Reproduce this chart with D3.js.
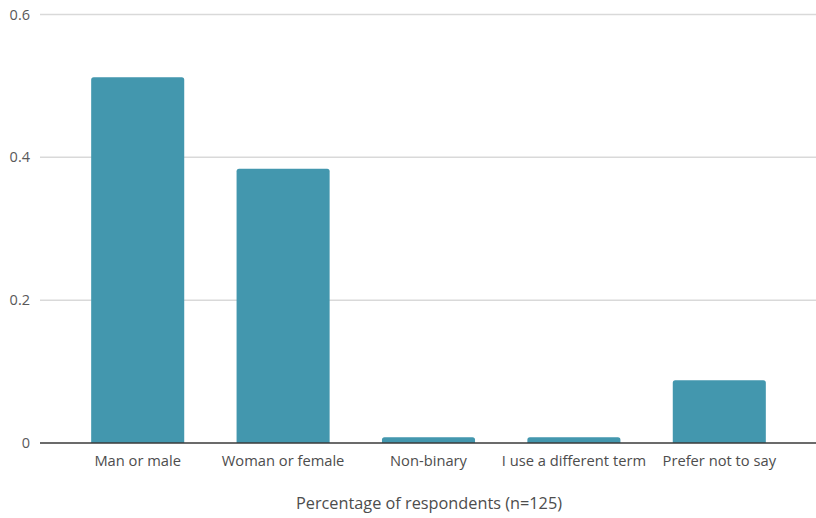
<!DOCTYPE html>
<html><head><meta charset="utf-8">
<script src="https://cdn.jsdelivr.net/npm/d3@7"></script>
<style>body{margin:0;background:#fff}svg{display:block}</style>
</head><body><svg id="c" width="816" height="518"></svg>
<script>
const categories = ["Man or male","Woman or female","Non-binary","I use a different term","Prefer not to say"];
const values = [0.512, 0.384, 0.008, 0.008, 0.088];
const yTicks = [0, 0.2, 0.4, 0.6];
const yTickLabels = ["0","0.2","0.4","0.6"];
const xTitle = "Percentage of respondents (n=125)";

const svg = d3.select("#c");
const font = "'Open Sans', sans-serif";
const x = d3.scaleBand().domain(categories).range([65, 792]).paddingInner(0.36).paddingOuter(0.18);
const y = d3.scaleLinear().domain([0, 0.6]).range([443, 14.5]);

// gridlines
svg.append("g").selectAll("line").data(yTicks.filter(d => d > 0)).join("line")
  .attr("x1", 40).attr("x2", 816)
  .attr("y1", d => y(d)).attr("y2", d => y(d))
  .attr("stroke", "#d9d9d9").attr("stroke-width", 1.5);

// y labels
svg.append("g").selectAll("text").data(yTicks).join("text")
  .attr("x", 30).attr("y", d => y(d)).attr("dy", "0.35em")
  .attr("text-anchor", "end").attr("font-family", font).attr("font-size", 14.5)
  .attr("fill", "#595959").text((d, i) => yTickLabels[i]);

// bars with rounded tops
const r = 2.5;
svg.append("g").selectAll("path").data(values).join("path")
  .attr("fill", "#4397ae")
  .attr("d", (d, i) => {
    const x0 = x(categories[i]), w = x.bandwidth(), y0 = y(d), yb = y(0);
    const rr = Math.min(r, (yb - y0));
    return `M${x0},${yb}V${y0 + rr}Q${x0},${y0} ${x0 + rr},${y0}H${x0 + w - rr}Q${x0 + w},${y0} ${x0 + w},${y0 + rr}V${yb}Z`;
  });

// zero line
svg.append("line").attr("x1", 40).attr("x2", 816).attr("y1", y(0)).attr("y2", y(0))
  .attr("stroke", "#3a3a3a").attr("stroke-width", 1.5);

// x labels
svg.append("g").selectAll("text").data(categories).join("text")
  .attr("x", d => x(d) + x.bandwidth() / 2).attr("y", 466)
  .attr("text-anchor", "middle").attr("font-family", font).attr("font-size", 14.7)
  .attr("fill", "#4d4d4d").text(d => d);

// axis title
svg.append("text").attr("x", 429).attr("y", 509).attr("text-anchor", "middle")
  .attr("font-family", font).attr("font-size", 16.3).attr("fill", "#4d4d4d").text(xTitle);
</script></body></html>
